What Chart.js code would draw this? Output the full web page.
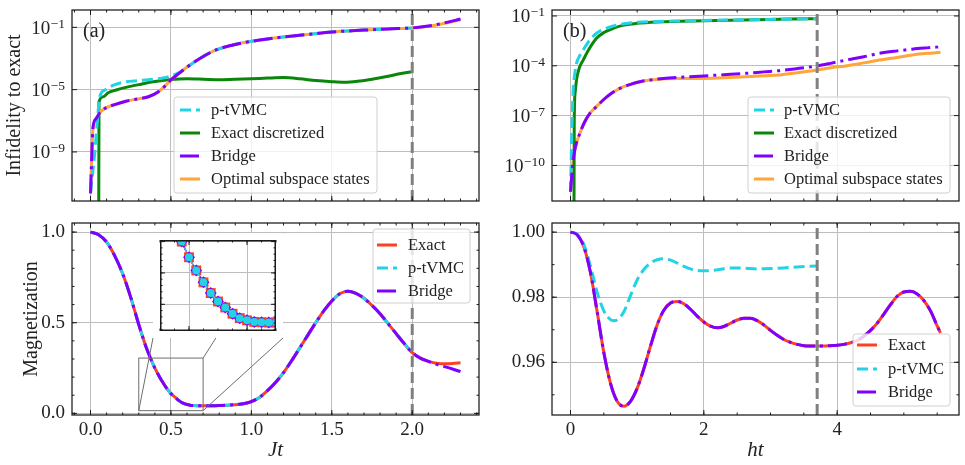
<!DOCTYPE html>
<html>
<head>
<meta charset="utf-8">
<script src="https://cdn.jsdelivr.net/npm/chart.js@4.4.1/dist/chart.umd.min.js"></script>
<style>
  body { margin: 0; background: #fff; }
  #fig { position: relative; width: 965px; height: 465px; }
  canvas { position: absolute; }
</style>
</head>
<body>
<div id="fig">
  <canvas id="infJ" width="482" height="215" style="left:0px;top:0px"></canvas>
  <canvas id="infH" width="483" height="215" style="left:482px;top:0px"></canvas>
  <canvas id="magJ" width="482" height="250" style="left:0px;top:215px"></canvas>
  <canvas id="magH" width="483" height="250" style="left:482px;top:215px"></canvas>
  <canvas id="inset" width="130" height="105" style="left:153px;top:233px"></canvas>
</div>
<script>
// =====================
// Data
// =====================

// (a) infidelity to exact vs Jt
const jtPtvmcA = [0, 0.015, 0.027, 0.041, 0.058, 0.09, 0.14, 0.22, 0.3, 0.38, 0.45, 0.5, 0.55, 0.6, 0.68, 0.78, 0.88, 1.0, 1.1, 1.2, 1.35, 1.5, 1.7, 1.85, 2.0]
const ptvmcA = [2.5e-12, 6.3e-11, 1.0e-9, 6.3e-8, 3.5e-6, 9.5e-6, 1.9e-5, 3.2e-5, 3.8e-5, 4.5e-5, 5.6e-5, 7.6e-5, 1.26e-4, 2.8e-4, 1.0e-3, 3.5e-3, 7.1e-3, 1.26e-2, 1.8e-2, 2.4e-2, 3.5e-2, 5.0e-2, 6.6e-2, 7.9e-2, 9.1e-2]

const jtDiscA = [0.051, 0.053, 0.08, 0.11, 0.16, 0.22, 0.3, 0.39, 0.5, 0.6, 0.7, 0.8, 0.9, 1.0, 1.1, 1.2, 1.3, 1.4, 1.5, 1.58, 1.66, 1.75, 1.85, 1.93, 2.0]
const discA = [1e-14, 1.66e-6, 3.5e-6, 6.3e-6, 9.5e-6, 1.4e-5, 2.1e-5, 3.2e-5, 4.5e-5, 5.0e-5, 4.7e-5, 4.3e-5, 4.7e-5, 5.0e-5, 5.5e-5, 5.9e-5, 5.0e-5, 3.8e-5, 3.2e-5, 2.95e-5, 3.4e-5, 4.7e-5, 7.2e-5, 1.07e-4, 1.4e-4]

const jtBridgeA = [0, 0.016, 0.033, 0.06, 0.1, 0.15, 0.22, 0.3, 0.36, 0.42, 0.47, 0.5, 0.55, 0.6, 0.68, 0.78, 0.88, 1.0, 1.1, 1.2, 1.35, 1.5, 1.7, 1.85, 2.0, 2.1, 2.2, 2.3]
const bridgeA = [2.2e-12, 4.0e-8, 1.3e-7, 3.5e-7, 7.1e-7, 1.1e-6, 1.8e-6, 2.6e-6, 3.5e-6, 7.1e-6, 2.0e-5, 4.2e-5, 1.1e-4, 2.8e-4, 1.0e-3, 3.5e-3, 7.1e-3, 1.26e-2, 1.8e-2, 2.4e-2, 3.5e-2, 5.0e-2, 6.6e-2, 7.9e-2, 9.1e-2, 0.12, 0.19, 0.34]
const optA = [2.2e-12, 4.0e-8, 1.3e-7, 3.5e-7, 7.1e-7, 1.1e-6, 1.8e-6, 2.6e-6, 3.5e-6, 7.1e-6, 2.0e-5, 4.2e-5, 1.1e-4, 2.8e-4, 1.0e-3, 3.5e-3, 7.1e-3, 1.26e-2, 1.8e-2, 2.4e-2, 3.5e-2, 5.0e-2, 6.6e-2, 7.9e-2, 9.0e-2, 0.115, 0.18, 0.30]

// (b) infidelity to exact vs ht
const htPtvmcB = [0, 0.02, 0.04, 0.06, 0.09, 0.13, 0.19, 0.27, 0.39, 0.5, 0.64, 0.8, 0.99, 1.3, 1.64, 2.2, 2.8, 3.3, 3.7]
const ptvmcB = [2.5e-12, 1.0e-8, 3.5e-6, 2.5e-5, 1.4e-4, 3.5e-4, 8.9e-4, 2.8e-3, 9.1e-3, 1.58e-2, 2.5e-2, 3.4e-2, 4.2e-2, 4.7e-2, 5.0e-2, 5.5e-2, 6.0e-2, 6.5e-2, 6.9e-2]

const htDiscB = [0.052, 0.056, 0.07, 0.09, 0.13, 0.19, 0.27, 0.39, 0.5, 0.64, 0.8, 0.99, 1.3, 1.64, 2.2, 2.8, 3.3, 3.7]
const discB = [1e-14, 3.2e-8, 2.5e-6, 1.4e-5, 7.1e-5, 2.2e-4, 8.9e-4, 4.5e-3, 1.0e-2, 1.8e-2, 2.8e-2, 3.6e-2, 4.4e-2, 4.8e-2, 5.4e-2, 6.0e-2, 6.5e-2, 6.9e-2]

const htBridgeB = [0, 0.015, 0.04, 0.08, 0.14, 0.21, 0.29, 0.39, 0.49, 0.6, 0.74, 0.9, 1.04, 1.2, 1.39, 1.7, 2.0, 2.3, 2.63, 2.9, 3.13, 3.4, 3.7, 3.9, 4.13, 4.4, 4.63, 4.9, 5.13, 5.35, 5.55]
const bridgeB = [2.6e-12, 1.6e-11, 2.1e-10, 1.6e-9, 8.5e-9, 4.0e-8, 1.38e-7, 3.5e-7, 8.7e-7, 2.0e-6, 4.4e-6, 7.6e-6, 1.1e-5, 1.4e-5, 1.74e-5, 2.1e-5, 2.45e-5, 2.9e-5, 3.5e-5, 4.3e-5, 5.1e-5, 6.8e-5, 9.8e-5, 1.4e-4, 2.2e-4, 3.5e-4, 5.6e-4, 7.9e-4, 1.0e-3, 1.2e-3, 1.4e-3]
const optB = [2.6e-12, 1.6e-11, 2.1e-10, 1.6e-9, 8.5e-9, 4.0e-8, 1.38e-7, 3.5e-7, 8.7e-7, 2.0e-6, 4.4e-6, 7.6e-6, 1.1e-5, 1.4e-5, 1.62e-5, 1.7e-5, 1.74e-5, 1.9e-5, 2.2e-5, 2.5e-5, 2.8e-5, 3.8e-5, 5.6e-5, 7.6e-5, 9.8e-5, 1.5e-4, 2.2e-4, 3.2e-4, 4.5e-4, 5.6e-4, 6.5e-4]

// (c) magnetization vs Jt
const jtMag = [0, 0.05, 0.1, 0.15, 0.2, 0.25, 0.3, 0.325, 0.35, 0.375, 0.4, 0.425, 0.45, 0.475, 0.5, 0.525, 0.55, 0.575, 0.6, 0.625, 0.65, 0.675, 0.7, 0.75, 0.8, 0.85, 0.9, 0.95, 1.0, 1.05, 1.1, 1.15, 1.2, 1.25, 1.3, 1.35, 1.4, 1.45, 1.5, 1.55, 1.6, 1.65, 1.7, 1.75, 1.8, 1.85, 1.9, 1.95, 2.0, 2.05, 2.1, 2.15, 2.2, 2.25, 2.3]
const magExactJ = [1.0, 0.985, 0.945, 0.87, 0.77, 0.64, 0.49, 0.42, 0.355, 0.300, 0.250, 0.208, 0.170, 0.136, 0.109, 0.090, 0.070, 0.056, 0.049, 0.044, 0.043, 0.042, 0.042, 0.042, 0.043, 0.045, 0.048, 0.053, 0.065, 0.088, 0.125, 0.17, 0.225, 0.29, 0.36, 0.43, 0.5, 0.565, 0.62, 0.66, 0.674, 0.662, 0.635, 0.595, 0.55, 0.495, 0.44, 0.385, 0.335, 0.305, 0.287, 0.277, 0.273, 0.275, 0.279]
// p-tVMC sits on the exact curve and stops at Jt = 2
const jtPtvmcMag = jtMag.slice(0, 49)
const magPtvmcJ = magExactJ.slice(0, 49)
// Bridge sits on the exact curve, then drifts down after Jt = 2.1
const magBridgeJ = magExactJ.slice(0, 51).concat([0.27, 0.258, 0.245, 0.23])

// (d) magnetization vs ht
const htMag = [0, 0.1, 0.2, 0.3, 0.4, 0.5, 0.6, 0.7, 0.8, 0.9, 1.0, 1.1, 1.2, 1.3, 1.4, 1.5, 1.6, 1.7, 1.8, 1.9, 2.0, 2.1, 2.2, 2.3, 2.4, 2.5, 2.6, 2.7, 2.8, 2.9, 3.0, 3.1, 3.2, 3.3, 3.4, 3.5, 3.6, 3.7, 3.8, 3.9, 4.0, 4.1, 4.2, 4.3, 4.4, 4.5, 4.6, 4.7, 4.8, 4.9, 5.0, 5.1, 5.2, 5.3, 5.4, 5.5, 5.55]
const magExactH = [1.0, 0.9992, 0.9955, 0.9875, 0.9755, 0.963, 0.9535, 0.948, 0.9465, 0.948, 0.952, 0.958, 0.965, 0.9715, 0.976, 0.9782, 0.9787, 0.978, 0.9763, 0.9742, 0.9724, 0.9711, 0.9706, 0.971, 0.972, 0.973, 0.9735, 0.9735, 0.9728, 0.9715, 0.9698, 0.9683, 0.967, 0.9661, 0.9655, 0.9651, 0.965, 0.965, 0.965, 0.9651, 0.9652, 0.9655, 0.966, 0.9667, 0.968, 0.9698, 0.972, 0.9748, 0.9777, 0.9803, 0.9816, 0.9818, 0.981, 0.979, 0.9758, 0.9712, 0.969]
const magBridgeH = magExactH.slice()
const htPtvmcMag = [0, 0.1, 0.2, 0.3, 0.4, 0.5, 0.6, 0.65, 0.7, 0.8, 0.9, 1.0, 1.1, 1.2, 1.3, 1.4, 1.5, 1.6, 1.7, 1.8, 1.9, 2.0, 2.2, 2.4, 2.6, 2.8, 3.0, 3.2, 3.4, 3.7]
const magPtvmcH = [1.0, 0.9993, 0.9962, 0.9895, 0.9815, 0.9758, 0.9731, 0.9728, 0.973, 0.9755, 0.9805, 0.9853, 0.9885, 0.9905, 0.9915, 0.9918, 0.9914, 0.9905, 0.9895, 0.9887, 0.9882, 0.9881, 0.9884, 0.989, 0.9889, 0.9887, 0.9888, 0.989, 0.9893, 0.9896]

// axes
const jtRange = [-0.115, 2.415]
const htRange = [-0.2775, 5.8275]
const jtTicks = [0, 0.5, 1.0, 1.5, 2.0]
const htTicks = [0, 2, 4]
const infRangeA = [7.1e-13, 1.29]
const infTicksA = [1e-9, 1e-5, 1e-1]
const infRangeB = [7.2e-13, 0.229]
const infTicksB = [1e-10, 1e-7, 1e-4, 1e-1]
const magRangeJ = [-0.009, 1.05]
const magTicksJ = [0, 0.5, 1.0]
const magRangeH = [0.9438, 1.0028]
const magTicksH = [0.96, 0.98, 1.00]
const insetXRange = [0.3, 0.7]
const insetYRange = [0.015, 0.305]
const cutoffJ = 2.0
const cutoffH = 3.7


// =====================
// Styles
// =====================
const FONT = "'Liberation Serif', 'DejaVu Serif', serif"
Chart.defaults.font.family = FONT
Chart.defaults.color = '#222'

const COLORS = {
  exact: '#ff4020',
  ptvmc: '#22d3e6',
  bridge: '#8000ff',
  disc: '#0a870a',
  opt: '#ffa53a',
  cut: '#808080',
  grid: '#bdbdbd'
}
const DASHED = [11, 5]
const DASHDOT = [19, 5, 3, 5]
const TICK_SIZE = 19


// =====================
// Helpers
// =====================
function pts(xs, ys) {
  return xs.map((x, i) => ({ x, y: ys[i] }))
}

function series(label, xs, ys, color, dash, order, extra) {
  return Object.assign({
    label,
    data: pts(xs, ys),
    showLine: true,
    fill: false,
    borderColor: color,
    backgroundColor: color,
    borderWidth: 3,
    borderDash: dash,
    pointRadius: 0,
    pointBorderWidth: 0,
    cubicInterpolationMode: 'monotone',
    order
  }, extra || {})
}

function axis(o) {
  const ax = {
    type: o.type || 'linear',
    bounds: 'data',
    min: o.range[0],
    max: o.range[1],
    afterBuildTicks: s => { s.ticks = o.ticks.map(v => ({ value: v })) },
    afterFit: s => {
      if (o.horizontal) s.height = o.size
      else s.width = o.size
      s.paddingLeft = s.paddingRight = s.paddingTop = s.paddingBottom = 0
    },
    grid: { color: COLORS.grid, lineWidth: 1, drawTicks: false },
    border: { display: false },
    ticks: {
      display: !!o.fmt,
      autoSkip: false,
      maxRotation: 0,
      minRotation: 0,
      padding: o.pad || 4,
      font: { size: TICK_SIZE },
      color: '#222'
    },
    title: { display: false }
  }
  if (o.fmt) ax.ticks.callback = o.fmt
  if (o.title) {
    ax.title = {
      display: true,
      text: o.title,
      color: '#222',
      font: { size: o.titleSize || 20, style: o.italic ? 'italic' : 'normal' },
      padding: o.titlePad
    }
  }
  return ax
}

function baseOptions(padding, x, y) {
  return {
    animation: false,
    responsive: false,
    devicePixelRatio: 1,
    events: [],
    layout: { padding },
    plugins: { legend: { display: false }, tooltip: { enabled: false } },
    scales: { x, y }
  }
}

function minorValues(scale, step) {
  const out = []
  if (!step) return out
  for (let k = Math.ceil(scale.min / step - 1e-9); k * step <= scale.max + 1e-9; k++) out.push(k * step)
  return out
}

function drawTicks(chart, cfg) {
  const { ctx, chartArea: a } = chart
  const xs = chart.scales.x, ys = chart.scales.y
  ctx.save()
  ctx.strokeStyle = '#1a1a1a'
  ctx.lineWidth = 1
  ctx.setLineDash([])
  ctx.beginPath()
  const mark = (scale, v, len) => {
    const p = scale.getPixelForValue(v)
    if (scale.isHorizontal()) {
      if (p < a.left - 0.5 || p > a.right + 0.5) return
      ctx.moveTo(p, a.bottom); ctx.lineTo(p, a.bottom - len)
      ctx.moveTo(p, a.top); ctx.lineTo(p, a.top + len)
    } else {
      if (p < a.top - 0.5 || p > a.bottom + 0.5) return
      ctx.moveTo(a.left, p); ctx.lineTo(a.left + len, p)
      ctx.moveTo(a.right, p); ctx.lineTo(a.right - len, p)
    }
  }
  xs.ticks.forEach(t => mark(xs, t.value, 5))
  ys.ticks.forEach(t => mark(ys, t.value, 5))
  minorValues(xs, cfg.xMinor).forEach(v => mark(xs, v, 2.5))
  minorValues(ys, cfg.yMinor).forEach(v => mark(ys, v, 2.5))
  ctx.stroke()
  const fw = cfg.frame || 1.25
  ctx.lineWidth = fw
  if (cfg.insetFrame) ctx.strokeRect(a.left + fw / 2, a.top + fw / 2, a.right - a.left - fw, a.bottom - a.top - fw)
  else ctx.strokeRect(a.left, a.top, a.right - a.left, a.bottom - a.top)
  ctx.restore()
}

function drawPowLabels(chart) {
  const { ctx, chartArea: a } = chart
  const ys = chart.scales.y
  const right = a.left - 7
  ctx.save()
  ctx.fillStyle = '#222'
  ctx.textAlign = 'left'
  ctx.textBaseline = 'alphabetic'
  ys.ticks.forEach(t => {
    const py = ys.getPixelForValue(t.value)
    const exp = '\u2212' + Math.round(-Math.log10(t.value))
    ctx.font = '13.5px ' + FONT
    const we = ctx.measureText(exp).width
    ctx.font = TICK_SIZE + 'px ' + FONT
    const wb = ctx.measureText('10').width
    ctx.fillText('10', right - we - wb - 0.5, py + 6.5)
    ctx.font = '13.5px ' + FONT
    ctx.fillText(exp, right - we, py + 0.5)
  })
  ctx.restore()
}

function drawCutoff(chart, value) {
  const { ctx, chartArea: a } = chart
  const x = chart.scales.x.getPixelForValue(value)
  ctx.save()
  ctx.strokeStyle = COLORS.cut
  ctx.lineWidth = 3
  ctx.setLineDash(DASHED)
  ctx.beginPath()
  ctx.moveTo(x, a.bottom)
  ctx.lineTo(x, a.top)
  ctx.stroke()
  ctx.restore()
}

function drawZoomBox(chart) {
  const { ctx } = chart
  const xs = chart.scales.x, ys = chart.scales.y
  const x0 = xs.getPixelForValue(insetXRange[0]), x1 = xs.getPixelForValue(insetXRange[1])
  const y0 = ys.getPixelForValue(insetYRange[0]), y1 = ys.getPixelForValue(insetYRange[1])
  const own = chart.canvas, ins = document.getElementById('inset')
  const L = ins.offsetLeft - own.offsetLeft, T = ins.offsetTop - own.offsetTop
  const R = L + ins.width, B = T + ins.height
  ctx.save()
  ctx.strokeStyle = '#6e6e6e'
  ctx.lineWidth = 1
  ctx.setLineDash([])
  ctx.strokeRect(x0, y1, x1 - x0, y0 - y1)
  ctx.beginPath()
  ctx.moveTo(x0, y0); ctx.lineTo(L, B)
  ctx.moveTo(x1, y0); ctx.lineTo(R, B)
  ctx.moveTo(x1, y1); ctx.lineTo(R, T)
  ctx.stroke()
  ctx.restore()
}

function drawLegend(chart, lg) {
  const { ctx } = chart
  const [bx, by, bw, bh] = lg.box
  ctx.save()
  ctx.beginPath()
  if (ctx.roundRect) ctx.roundRect(bx, by, bw, bh, 3)
  else ctx.rect(bx, by, bw, bh)
  ctx.fillStyle = 'rgba(255,255,255,0.8)'
  ctx.fill()
  ctx.strokeStyle = '#d0d0d0'
  ctx.lineWidth = 1
  ctx.stroke()
  lg.items.forEach((label, i) => {
    const ds = chart.data.datasets.find(d => d.label === label)
    const y = lg.rows[i]
    ctx.strokeStyle = ds.borderColor
    ctx.lineWidth = 3
    ctx.setLineDash(ds.borderDash || [])
    ctx.beginPath()
    ctx.moveTo(lg.line[0], y)
    ctx.lineTo(lg.line[1], y)
    ctx.stroke()
    ctx.setLineDash([])
    ctx.fillStyle = '#222'
    ctx.font = '16.5px ' + FONT
    ctx.textAlign = 'left'
    ctx.textBaseline = 'middle'
    ctx.fillText(label, lg.text, y + 1)
  })
  ctx.restore()
}

function decor(cfg) {
  return {
    id: 'decor',
    beforeDraw(chart) {
      if (!cfg.white) return
      const { ctx } = chart
      ctx.save()
      ctx.fillStyle = '#fff'
      ctx.fillRect(0, 0, chart.width, chart.height)
      ctx.restore()
    },
    afterDatasetsDraw(chart) {
      if (cfg.zoomBox) drawZoomBox(chart)
      if (cfg.cutoff != null) drawCutoff(chart, cfg.cutoff)
    },
    afterDraw(chart) {
      drawTicks(chart, cfg)
      if (cfg.pow) drawPowLabels(chart)
      if (cfg.legend) drawLegend(chart, cfg.legend)
      if (cfg.tag) {
        const { ctx } = chart
        ctx.save()
        ctx.fillStyle = '#222'
        ctx.font = '20px ' + FONT
        ctx.textAlign = 'left'
        ctx.textBaseline = 'middle'
        ctx.fillText(cfg.tag.text, cfg.tag.x, cfg.tag.y)
        ctx.restore()
      }
    }
  }
}


// =====================
// (a) infidelity, Jt
// =====================
new Chart(document.getElementById('infJ'), {
  type: 'scatter',
  data: {
    datasets: [
      series('p-tVMC', jtPtvmcA, ptvmcA, COLORS.ptvmc, DASHED, 1),
      series('Exact discretized', jtDiscA, discA, COLORS.disc, [], 3),
      series('Bridge', jtBridgeA, bridgeA, COLORS.bridge, DASHDOT, 0),
      series('Optimal subspace states', jtBridgeA, optA, COLORS.opt, [], 2)
    ]
  },
  options: baseOptions(
    { top: 10, right: 3, left: 0, bottom: 0 },
    axis({ range: jtRange, ticks: jtTicks, size: 14, horizontal: true }),
    axis({ type: 'logarithmic', range: infRangeA, ticks: infTicksA, size: 72,
           title: 'Infidelity to exact', titlePad: { top: 3, bottom: 0 } })
  ),
  plugins: [decor({
    xMinor: 0.1,
    cutoff: cutoffJ,
    pow: true,
    tag: { text: '(a)', x: 83, y: 32 },
    legend: {
      box: [174, 97, 203, 96],
      items: ['p-tVMC', 'Exact discretized', 'Bridge', 'Optimal subspace states'],
      rows: [110, 133, 156, 179],
      line: [180, 200],
      text: 211
    }
  })]
})


// =====================
// (b) infidelity, ht
// =====================
new Chart(document.getElementById('infH'), {
  type: 'scatter',
  data: {
    datasets: [
      series('p-tVMC', htPtvmcB, ptvmcB, COLORS.ptvmc, DASHED, 1),
      series('Exact discretized', htDiscB, discB, COLORS.disc, [], 2),
      series('Bridge', htBridgeB, bridgeB, COLORS.bridge, DASHDOT, 0),
      series('Optimal subspace states', htBridgeB, optB, COLORS.opt, [], 3)
    ]
  },
  options: baseOptions(
    { top: 10, right: 6, left: 0, bottom: 0 },
    axis({ range: htRange, ticks: htTicks, size: 14, horizontal: true }),
    axis({ type: 'logarithmic', range: infRangeB, ticks: infTicksB, size: 70 })
  ),
  plugins: [decor({
    xMinor: 0.5,
    cutoff: cutoffH,
    pow: true,
    tag: { text: '(b)', x: 81, y: 32 },
    legend: {
      box: [266, 97, 202, 96],
      items: ['p-tVMC', 'Exact discretized', 'Bridge', 'Optimal subspace states'],
      rows: [110, 133, 156, 179],
      line: [272, 292],
      text: 302
    }
  })]
})


// =====================
// (c) magnetization, Jt
// =====================
new Chart(document.getElementById('magJ'), {
  type: 'scatter',
  data: {
    datasets: [
      series('Exact', jtMag, magExactJ, COLORS.exact, [], 2),
      series('p-tVMC', jtPtvmcMag, magPtvmcJ, COLORS.ptvmc, DASHED, 1),
      series('Bridge', jtMag, magBridgeJ, COLORS.bridge, DASHDOT, 0)
    ]
  },
  options: baseOptions(
    { top: 8, right: 3, left: 0, bottom: 0 },
    axis({ range: jtRange, ticks: jtTicks, size: 50, horizontal: true, pad: 4,
           fmt: v => v.toFixed(1), title: 'Jt', italic: true, titleSize: 21,
           titlePad: { top: 0, bottom: 1.5 } }),
    axis({ range: magRangeJ, ticks: magTicksJ, size: 72, pad: 7, fmt: v => v.toFixed(1),
           title: 'Magnetization', titlePad: { top: 20, bottom: 0 } })
  ),
  plugins: [decor({
    xMinor: 0.1,
    yMinor: 0.1,
    cutoff: cutoffJ,
    zoomBox: true,
    legend: {
      box: [373, 14, 97, 74],
      items: ['Exact', 'p-tVMC', 'Bridge'],
      rows: [30, 53, 76],
      line: [377, 397],
      text: 408
    }
  })]
})


// =====================
// (d) magnetization, ht
// =====================
new Chart(document.getElementById('magH'), {
  type: 'scatter',
  data: {
    datasets: [
      series('Exact', htMag, magExactH, COLORS.exact, [], 2),
      series('p-tVMC', htPtvmcMag, magPtvmcH, COLORS.ptvmc, DASHED, 1),
      series('Bridge', htMag, magBridgeH, COLORS.bridge, DASHDOT, 0)
    ]
  },
  options: baseOptions(
    { top: 8, right: 6, left: 0, bottom: 0 },
    axis({ range: htRange, ticks: htTicks, size: 50, horizontal: true, pad: 4,
           fmt: v => String(v), title: 'ht', italic: true, titleSize: 21,
           titlePad: { top: 0, bottom: 1.5 } }),
    axis({ range: magRangeH, ticks: magTicksH, size: 70, pad: 7, fmt: v => v.toFixed(2) })
  ),
  plugins: [decor({
    xMinor: 0.5,
    yMinor: 0.01,
    cutoff: cutoffH,
    legend: {
      box: [371, 119, 97, 72],
      items: ['Exact', 'p-tVMC', 'Bridge'],
      rows: [130, 154, 177],
      line: [375, 395],
      text: 406
    }
  })]
})


// =====================
// Inset of (c)
// =====================
new Chart(document.getElementById('inset'), {
  type: 'scatter',
  data: {
    datasets: [
      series('p-tVMC', jtPtvmcMag, magPtvmcJ, COLORS.ptvmc, [5, 2], 0,
             { borderWidth: 1.5, pointRadius: 4, pointStyle: 'circle' }),
      series('Bridge', jtMag, magBridgeJ, COLORS.bridge, [7, 2, 2, 2], 1,
             { borderWidth: 1.5, pointRadius: 6, pointStyle: 'rectRot' }),
      series('Exact', jtMag, magExactJ, COLORS.exact, [], 2,
             { borderWidth: 1.5, pointRadius: 7, pointStyle: 'rect' })
    ]
  },
  options: baseOptions(
    0,
    axis({ range: insetXRange, ticks: [0.4, 0.6], size: 0, horizontal: true }),
    axis({ range: insetYRange, ticks: [0.1, 0.2, 0.3], size: 0 })
  ),
  plugins: [decor({ white: true, xMinor: 0.05, yMinor: 0.02, frame: 1.5, insetFrame: true })]
})
</script>
</body>
</html>
